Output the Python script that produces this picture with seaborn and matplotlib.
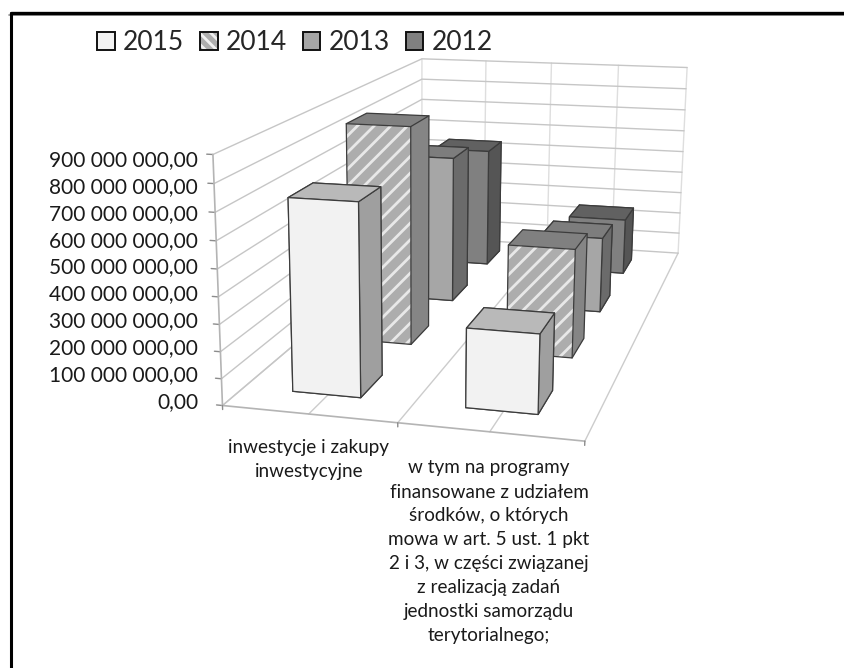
# === imports ===
import numpy as np
import matplotlib
matplotlib.use("Agg")
import matplotlib.pyplot as plt
import matplotlib.colors as mcolors
from matplotlib.patches import Patch
from mpl_toolkits.mplot3d.art3d import Poly3DCollection
import seaborn as sns

# === data ===
series = ["2015", "2014", "2013", "2012"]
invest_values = [718000000, 872000000, 628000000, 540000000]
program_values = [293000000, 432000000, 320000000, 252000000]
z_ticks = [0, 100000000, 200000000, 300000000, 400000000, 500000000, 600000000, 700000000, 800000000, 900000000]
z_labels = ["0,00", "100 000 000,00", "200 000 000,00", "300 000 000,00", "400 000 000,00",
            "500 000 000,00", "600 000 000,00", "700 000 000,00", "800 000 000,00", "900 000 000,00"]
cat_invest = "inwestycje i zakupy\ninwestycyjne"
cat_program = ("w tym na programy\nfinansowane z udziałem\nśrodków, o których\nmowa w art. 5 ust. 1 pkt\n"
               "2 i 3, w części związanej\nz realizacją zadań\njednostki samorządu\nterytorialnego;")

# === styling ===
sns.set_style("white")
plt.rcParams["font.family"] = ["Lato", "DejaVu Sans"]
plt.rcParams["hatch.linewidth"] = 2

# front, side, top colour of each series
bar_colors = {
    "2015": ("#f2f2f2", "#9f9f9f", "#b9b9b9"),
    "2014": ("#adadad", "#858585", "#808080"),
    "2013": ("#a6a6a6", "#6b6b6b", "#7d7d7d"),
    "2012": ("#808080", "#555555", "#616161"),
}
edge = "#3c3c3c"

W, H = 844, 668
fig = plt.figure(figsize=(W / 100, H / 100), dpi=100)
ax = fig.add_subplot(projection="3d", computed_zorder=False)
ax.set_position([0, 0, 1, 1])
ax.set_axis_off()

# === camera: fit the perspective to the corners of the chart box ===
# world is (category position, series position, value / 1e8), screen is in pixels
world = np.array([(0, 0, 0), (2, 0, 0), (2, 4, 0), (0, 4, 0), (0, 0, 9), (0, 4, 9), (2, 4, 9), (1, 0, 0)], float)
screen = np.array([(222, 404), (585, 442), (678, 252), (422, 238), (213, 155), (422, 58), (687, 68), (398, 423)], float)

rows, rhs = [], []
for (X, Y, Z), (u, v) in zip(world, screen):
    rows.append([X, Y, Z, 1, 0, 0, 0, 0, -u * X, -u * Y, -u * Z])
    rows.append([0, 0, 0, 0, X, Y, Z, 1, -v * X, -v * Y, -v * Z])
    rhs += [u, v]
p = np.linalg.lstsq(np.array(rows), np.array(rhs), rcond=None)[0]
P = np.append(p, 1).reshape(3, 4)
P[:, 2] /= 1e8


def fitted_proj():
    # pixels -> display -> the 2d data coords the 3d axes wants
    to_data = ax.transData.inverted().get_affine().get_matrix()
    flip = np.array([[1, 0, 0], [0, -1, H], [0, 0, 1]], float)
    T = to_data @ flip @ P
    return np.vstack([T[0], T[1], [0, 0, 0, -1], T[2]])


ax.get_proj = fitted_proj

# === walls and floor ===
z_top = z_ticks[-1]
for k, v in enumerate(z_ticks):
    ax.plot([0, 0, 2], [0, 4, 4], [v, v, v], color="#c6c6c6", lw=1, zorder=1.5)
    ax.plot([-0.035, 0], [0, 0], [v, v], color="#8c8c8c", lw=1, zorder=1)
    fig.text(198 / W, 1 - (402 - 26.9 * k) / H, z_labels[k], ha="right", va="center", fontsize=15, color="#1a1a1a")
for c in [0, 0.5, 1, 1.5, 2]:
    ax.plot([c, c], [4, 4], [0, z_top], color="#dedede", lw=1, zorder=1)
    ax.plot([c, c], [0, 4], [0, 0], color="#cccccc", lw=1, zorder=1)
ax.plot([0, 2], [0, 0], [0, 0], color="#b4b4b4", lw=1.2, zorder=2)
ax.plot([0, 0], [0, 0], [0, z_top], color="#b4b4b4", lw=1.2, zorder=2)
for c in [0, 1, 2]:
    ax.plot([c, c], [0, 0], [0, -15000000], color="#8c8c8c", lw=1, zorder=2)

# === bars, back row first ===
bar_w, bar_d = 0.4, 0.4
x_off, y_off = 0.29, 0.32
order = 3
for j in range(len(series) - 1, -1, -1):
    name = series[j]
    front, side, top = bar_colors[name]
    faces = [side, top, front, side, side, side]
    for i, vals in enumerate([invest_values, program_values]):
        x0, x1 = i + x_off, i + x_off + bar_w
        y0, y1 = j + y_off, j + y_off + bar_d
        h = vals[j]
        if name != "2014":
            ax.bar3d(x0, y0, 0, bar_w, bar_d, h, color=faces, shade=False,
                     edgecolors=edge, linewidths=0.9, zorder=order)
        else:
            # hatched front: light stripes come from the edge colour, so the outline is drawn on its own
            ax.bar3d(x0, y0, 0, bar_w, bar_d, h, color=faces, shade=False, edgecolors="none", zorder=order)
            stripes = Poly3DCollection([[(x0, y0, 0), (x1, y0, 0), (x1, y0, h), (x0, y0, h)]], facecolors=front,
                                       edgecolors="#e8e8e8", linewidths=0, hatch="//", zorder=order + 0.2)
            ax.add_collection3d(stripes)
            ax.plot([x0, x1, x1, x0, x0], [y0, y0, y0, y0, y0], [0, 0, h, h, 0], color=edge, lw=0.9, zorder=order + 0.4)
            ax.plot([x0, x0, x1, x1], [y0, y1, y1, y0], [h, h, h, h], color=edge, lw=0.9, zorder=order + 0.4)
            ax.plot([x1, x1, x1], [y0, y1, y1], [0, 0, h], color=edge, lw=0.9, zorder=order + 0.4)
        order += 1

# === category labels ===
fig.text(309 / W, 1 - 460 / H, cat_invest, ha="center", va="center", fontsize=13.6, linespacing=1.5, color="#1a1a1a")
fig.text(489 / W, 1 - 552 / H, cat_program, ha="center", va="center", fontsize=13.6, linespacing=1.5, color="#1a1a1a")

# === legend ===
handles = []
for name in series:
    patch = Patch(facecolor=bar_colors[name][0], edgecolor="#111111", linewidth=1.4, label=name,
                  hatch="\\\\\\" if name == "2014" else None)
    if name == "2014":
        patch._hatch_color = mcolors.to_rgba("#f0f0f0")
    handles.append(patch)
fig.legend(handles=handles, loc="upper left", bbox_to_anchor=(92 / W, 1 - 25 / H), ncol=4, frameon=False,
           fontsize=19, handlelength=0.66, handleheight=0.66, handletextpad=0.3, columnspacing=0.62,
           borderpad=0.2, borderaxespad=0)

# === outer frame: only the top and left lines show ===
fig.add_artist(plt.Line2D([9 / W, 1], [1 - 14.5 / H, 1 - 14.5 / H], color="#8a8a8a", lw=1.2))
fig.add_artist(plt.Line2D([10.5 / W, 1], [1 - 12.5 / H, 1 - 12.5 / H], color="black", lw=2.4))
fig.add_artist(plt.Line2D([10.5 / W, 10.5 / W], [0, 1 - 12.5 / H], color="black", lw=2.2))

fig.savefig("out.png", dpi=100)
